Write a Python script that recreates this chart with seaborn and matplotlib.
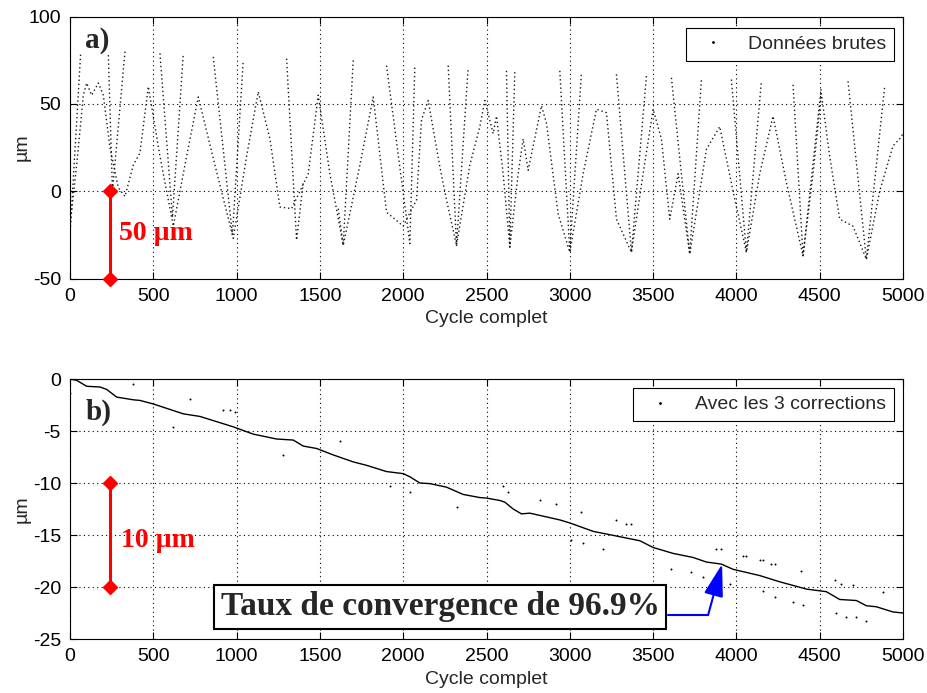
import numpy as np
import pandas as pd
import matplotlib
matplotlib.use("Agg")
import matplotlib.pyplot as plt
import seaborn as sns
from matplotlib.lines import Line2D

sns.set_style("ticks")
plt.rcParams["font.family"] = ["Liberation Sans", "DejaVu Sans"]
plt.rcParams["axes.unicode_minus"] = False

# --- a) données brutes : oscillation lente (triangle) ---
slow_x = [0, 40, 80, 100, 130, 170, 200, 240, 290, 330, 380, 420, 470, 540, 620, 700,
          770, 870, 980, 1060, 1130, 1200, 1260, 1330, 1430, 1490, 1560, 1640, 1740, 1820,
          1900, 2000, 2080, 2110, 2150, 2220, 2260, 2320, 2400, 2460, 2490, 2540, 2560,
          2600, 2640, 2690, 2720, 2750, 2830, 2860, 2930, 3000, 3080, 3160, 3220, 3280,
          3370, 3440, 3500, 3550, 3600, 3650, 3720, 3820, 3900, 3980, 4060, 4140, 4220,
          4300, 4400, 4460, 4510, 4560, 4620, 4700, 4780, 4860, 4940, 4980, 5000]
slow_y = [-20, 15, 55, 62, 55, 62, 55, 25, 2, -3, 15, 22, 60, 20, -20, 20,
          54, 15, -27, 20, 57, 30, -9, -10, 10, 55, 10, -31, 15, 54,
          -12, -20, -5, 41, 52, 14, -5, -31, 15, 37, 52, 33, 43,
          10, -32, 10, 30, 12, 49, 39, -13, -35, 10, 47, 45, -16,
          -35, 10, 47, 30, -16, 10, -36, 24, 37, 0, -35, 10, 43,
          5, -37, 10, 56, 20, -16, -20, -39, 0, 26, 30, 33]

# --- a) données brutes : balayages rapides (V) ---
fast_id = [0, 0, 1, 1, 1, 2, 2, 2, 3, 3, 3, 4, 4, 4, 5, 5, 5, 6, 6, 6, 7, 7, 7,
           8, 8, 8, 9, 9, 9, 10, 10, 10, 11, 11, 11, 12, 12, 12, 13, 13, 13, 14, 14, 14]
fast_x = [0, 64, 230, 255, 330, 540, 615, 680, 860, 975, 1040, 1300, 1360, 1400,
          1610, 1640, 1700, 1900, 2040, 2070, 2270, 2320, 2390, 2620, 2640, 2670,
          2940, 3000, 3070, 3280, 3370, 3460, 3610, 3720, 3790, 3970, 4060, 4150,
          4340, 4400, 4510, 4670, 4780, 4890]
fast_y = [-25, 79, 78, 0, 80, 79, -15, 79, 77, -25, 75, 76, -28, 5,
          -10, -31, 75, 72, -30, 72, 72, -31, 71, 69, -32, 69,
          69, -35, 68, 67, -35, 66, 65, -36, 64, 64, -35, 63,
          61, -37, 60, 63, -39, 60]

# --- b) avec les 3 corrections ---
corr_x = [0, 40, 100, 180, 220, 280, 380, 420, 500, 680, 780, 980, 1100, 1240, 1340,
          1400, 1480, 1580, 1700, 1780, 1900, 2000, 2040, 2100, 2160, 2260, 2360, 2460,
          2500, 2580, 2610, 2660, 2710, 2760, 2940, 3000, 3140, 3240, 3420, 3500, 3620,
          3740, 3820, 3910, 3980, 4140, 4260, 4420, 4540, 4620, 4720, 4780, 4840, 4940, 5000]
corr_y = [0, -0.13, -0.7, -0.77, -1.0, -1.74, -2.0, -2.06, -2.4, -3.35, -3.6, -4.6, -5.3,
          -5.77, -5.87, -6.45, -6.68, -7.3, -7.97, -8.3, -8.9, -9.1, -9.4, -10.0, -10.06,
          -10.4, -11.1, -11.4, -11.45, -11.68, -11.84, -12.5, -12.97, -12.9, -13.55, -13.84,
          -14.65, -14.97, -15.55, -16.2, -16.77, -17.16, -17.6, -17.8, -18.3, -18.9, -19.5,
          -20.2, -20.45, -21.2, -21.3, -21.8, -21.9, -22.4, -22.5]
out_x = [0, 380, 720, 920, 960, 990, 620, 1620, 1280, 1920, 2040, 2320, 2600, 2630, 2820,
         2920, 3070, 3280, 3340, 3370, 3010, 3080, 3200, 3880, 3910, 4040, 4060, 4140,
         4160, 4210, 4230, 3610, 3730, 3800, 3960, 4390, 4590, 4630, 4700, 4160, 4230,
         4340, 4400, 4880, 4600, 4660, 4720, 4780]
out_y = [-1.35, -0.5, -1.9, -3.0, -3.0, -3.2, -4.6, -6.0, -7.3, -10.3, -10.9, -12.3, -10.3,
         -10.9, -11.6, -12.0, -12.8, -13.55, -13.9, -13.94, -15.5, -15.8, -16.3, -16.3,
         -16.3, -17.0, -17.0, -17.4, -17.4, -17.8, -17.8, -18.3, -18.6, -19.0, -19.7, -18.5,
         -19.35, -19.7, -19.8, -20.4, -21.0, -21.4, -21.7, -20.45, -22.5, -22.9, -22.9, -23.3]

x_ticks = list(range(0, 5001, 500))
yticks_a = [-50, 0, 50, 100]
yticks_b = [-25, -20, -15, -10, -5, 0]

slow = pd.DataFrame({"x": slow_x, "y": slow_y})
fast = pd.DataFrame({"x": fast_x, "y": fast_y, "seg": fast_id})
corr = pd.DataFrame({"x": corr_x, "y": corr_y})
outl = pd.DataFrame({"x": out_x, "y": out_y})

fig = plt.figure(figsize=(9.27, 6.93), dpi=100)
ax1 = fig.add_axes([70 / 927, 1 - 278.5 / 693, 833 / 927, 261.8 / 693])
ax2 = fig.add_axes([70 / 927, 1 - 639 / 693, 833 / 927, 260 / 693])


def style(ax, yticks):
    ax.set_xlim(0, 5000)
    ax.set_xticks(x_ticks)
    ax.set_ylim(yticks[0], yticks[-1])
    ax.set_yticks(yticks)
    ax.set_axisbelow(True)
    ax.grid(True, color="k", ls=(0, (1, 3)), lw=0.8)
    ax.tick_params(direction="in", top=True, right=True, length=5, width=0.8,
                   labelsize=14, pad=6.5, colors="k")
    for s in ax.spines.values():
        s.set_color("k")
        s.set_linewidth(0.8)
    ax.set_xlabel("Cycle complet", fontsize=14, labelpad=4)
    ax.set_ylabel("µm", fontsize=14)
    ax.yaxis.set_label_coords(-0.047, 0.5)


dot_style = dict(color="0.1", lw=1.0, ls=(0, (1, 2)))
sns.lineplot(data=slow, x="x", y="y", sort=False, estimator=None, ax=ax1, **dot_style)
sns.lineplot(data=fast, x="x", y="y", units="seg", sort=False, estimator=None, ax=ax1,
             **dot_style)
style(ax1, yticks_a)
ax1.legend(handles=[Line2D([], [], marker=".", ms=2, ls="none", color="k")],
           labels=["Données brutes"], loc="upper right", bbox_to_anchor=(0.989, 0.958),
           borderaxespad=0, fontsize=14, fancybox=False, edgecolor="k", framealpha=1,
           handlelength=2)
ax1.legend_.get_frame().set_linewidth(0.8)

sns.lineplot(data=corr, x="x", y="y", sort=False, estimator=None, ax=ax2, color="k", lw=1.0)
sns.scatterplot(data=outl, x="x", y="y", ax=ax2, color="k", s=2, linewidth=0)
style(ax2, yticks_b)
ax2.legend(handles=[Line2D([], [], marker=".", ms=2, ls="none", color="k")],
           labels=["Avec les 3 corrections"], loc="upper right",
           bbox_to_anchor=(0.989, 0.965), borderaxespad=0, fontsize=14, fancybox=False,
           edgecolor="k", framealpha=1, handlelength=2)
ax2.legend_.get_frame().set_linewidth(0.8)

serif = ["Liberation Serif", "DejaVu Serif"]
red = "#ff0000"
# échelles rouges
ax1.plot([240, 240], [0, -50], color=red, lw=2.2, marker="D", ms=7, zorder=5, clip_on=False)
ax1.text(294, -24, "50 µm", color=red, fontsize=20, fontweight="bold", family=serif,
         va="center", ha="left")
ax2.plot([240, 240], [-10, -20], color=red, lw=2.2, marker="D", ms=7, zorder=5,
         clip_on=False)
ax2.text(306, -15.5, "10 µm", color=red, fontsize=20, fontweight="bold", family=serif,
         va="center", ha="left")

ax1.text(90, 82, "a)", fontsize=21, fontweight="bold", family=serif, va="baseline")
ax2.text(96, -3.94, "b)", fontsize=21, fontweight="bold", family=serif, va="baseline")

# annotation
ax2.text(2221, -21.9, "Taux de convergence de 96.9%", fontsize=24, fontweight="bold",
         family=serif, ha="center", va="center", zorder=6,
         bbox=dict(boxstyle="square,pad=0.2", fc="white", ec="k", lw=1.5))
blue = "#0000ff"
ax2.plot([3589, 3830], [-22.7, -22.7], color=blue, lw=1.5, zorder=6)
ax2.annotate("", xy=(3914, -17.8), xytext=(3830, -22.7),
             arrowprops=dict(arrowstyle="-|>,head_length=1.0,head_width=0.3",
                             mutation_scale=20, color=blue, lw=1.5,
                             shrinkA=0, shrinkB=0), zorder=6)

fig.savefig("out.png", dpi=100)
